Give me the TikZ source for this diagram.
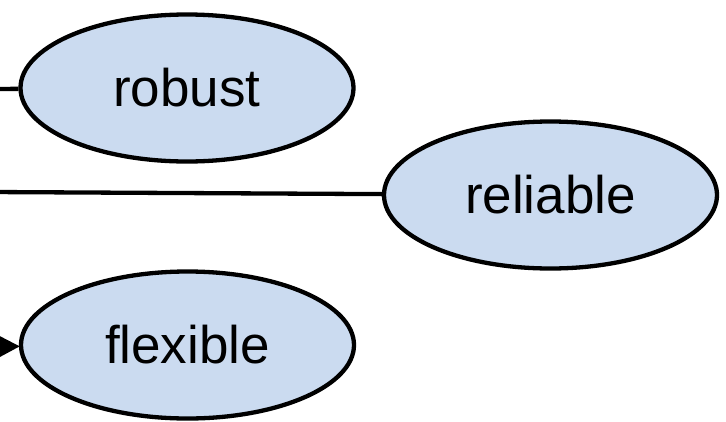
\documentclass[tikz,border=0pt]{standalone}
\usepackage{fontspec}
\setmainfont{Liberation Sans}
\usetikzlibrary{shapes.geometric,arrows.meta}
\definecolor{nodefill}{RGB}{203,219,240}
\tikzset{
  oval/.style={ellipse, draw=black, line width=4.3pt, fill=nodefill,
    minimum width=333pt, minimum height=147pt, inner sep=0pt,
    font=\fontsize{53pt}{60pt}\selectfont},
  conn/.style={line width=4.3pt, draw=black}
}
\begin{document}
\begin{tikzpicture}[x=1pt,y=-1pt]
\useasboundingbox (0,0) rectangle (726,421);
\node[oval] (robust) at (187,88) {robust};
\node[oval] (reliable) at (550.5,195) {reliable};
\node[oval] (flexible) at (187.5,345) {flexible};
\coordinate (a0) at (-10,89);
\coordinate (b0) at (-10,192);
\coordinate (c0) at (-60,347);
\draw[conn] (a0) -- (robust);
\draw[conn] (b0) -- (reliable);
\draw[conn, -{Triangle[length=26pt,width=26pt]}, shorten >=-1pt] (c0) -- (flexible);
\end{tikzpicture}
\end{document}
